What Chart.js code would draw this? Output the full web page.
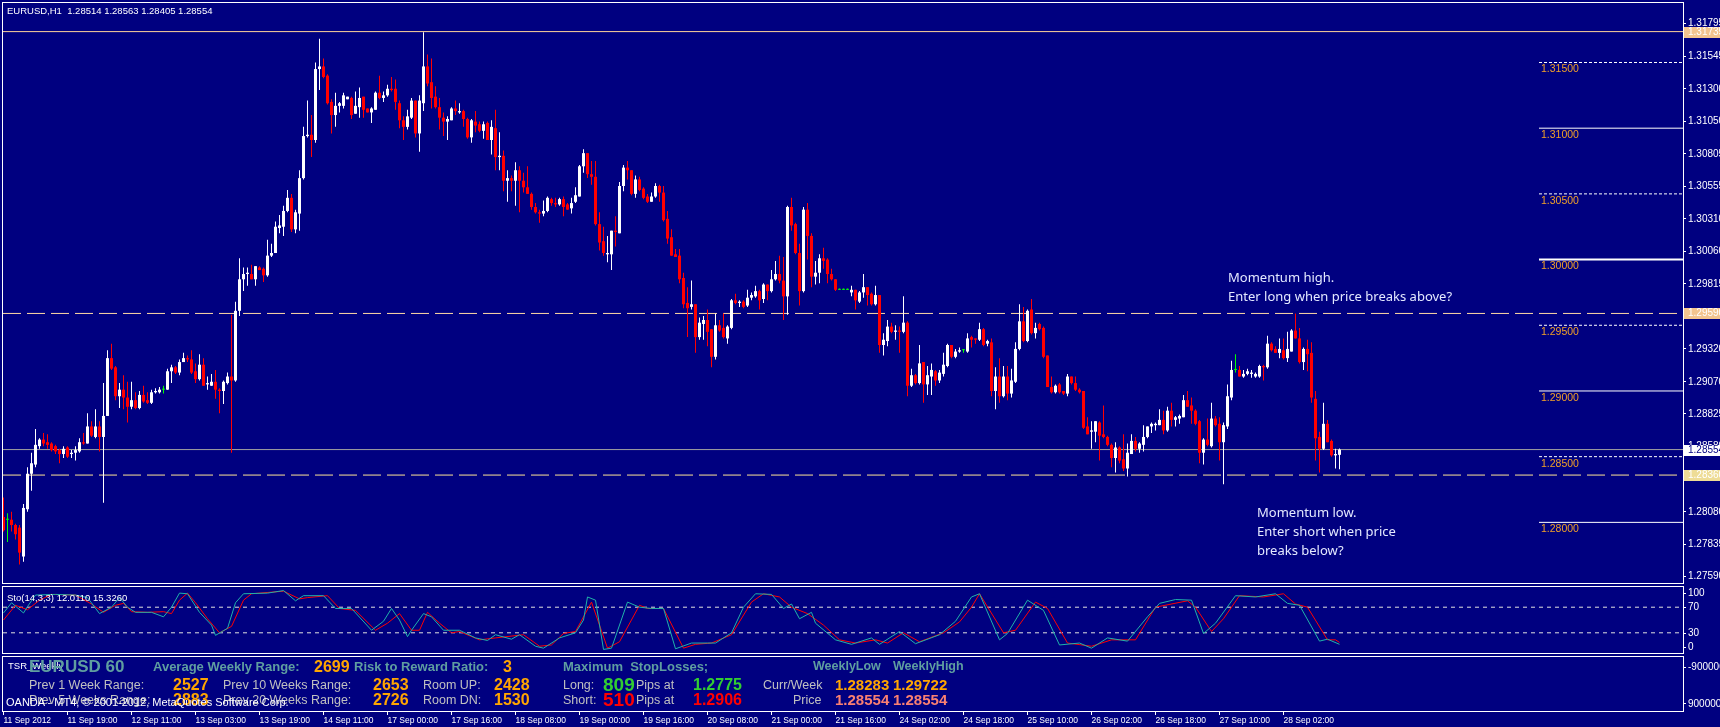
<!DOCTYPE html>
<html>
<head>
<meta charset="utf-8">
<title>EURUSD,H1</title>
<script src="https://cdn.jsdelivr.net/npm/chart.js@4.4.1/dist/chart.umd.min.js"></script>
<style>
  body { margin:0; width:1720px; height:727px; background:#000080; position:relative; overflow:hidden;
         font-family:"Liberation Sans", Arial, sans-serif; }
  canvas { position:absolute; left:0; }
  .frame { position:absolute; left:2px; width:1682px; border:1px solid #fff; box-sizing:border-box; pointer-events:none; }
  .t { position:absolute; white-space:pre; line-height:1; }
  .cb { color:#5f9ea0; font-weight:bold; font-size:13px; }
  .gr { color:#c0c0c0; font-size:12.5px; }
  .or { color:#ffa500; font-weight:bold; font-size:16px; }
  .note { position:absolute; font-family:"Noto Sans", sans-serif; font-size:13px; line-height:19px; color:#e4e9ff; white-space:pre; }
</style>
</head>
<body>
<canvas id="main" width="1720" height="586" style="top:0"></canvas>
<canvas id="stoch" width="1720" height="72" style="top:584px"></canvas>
<canvas id="info" width="1720" height="73" style="top:654px"></canvas>

<div class="frame" style="top:2px;height:582px"></div>
<div class="frame" style="top:586px;height:68px"></div>
<div class="frame" style="top:656px;height:56px"></div>

<!-- main window texts -->
<div class="t" style="left:7px;top:6px;font-size:9.5px;color:#fff">EURUSD,H1  1.28514 1.28563 1.28405 1.28554</div>
<div class="note" style="left:1228px;top:268px">Momentum high.
Enter long when price breaks above?</div>
<div class="note" style="left:1257px;top:503px">Momentum low.
Enter short when price
breaks below?</div>

<!-- stochastic label -->
<div class="t" style="left:7px;top:593px;font-size:9.5px;color:#fff">Sto(14,3,3) 12.0110 15.3260</div>

<!-- TSR weekly panel -->
<div class="t" style="left:8px;top:661px;font-size:9.5px;color:#fff">TSR_Weekly</div>
<div class="t" style="left:29px;top:658px;font-size:17px;font-weight:bold;color:#5f9ea0">EURUSD 60</div>
<div class="t cb" style="left:153px;top:660px">Average Weekly Range:</div>
<div class="t or" style="left:314px;top:659px">2699</div>
<div class="t cb" style="left:354px;top:660px">Risk to Reward Ratio:</div>
<div class="t or" style="left:503px;top:659px">3</div>
<div class="t cb" style="left:563px;top:660px">Maximum  StopLosses;</div>
<div class="t cb" style="left:813px;top:660px;font-size:12.5px">WeeklyLow</div>
<div class="t cb" style="left:893px;top:660px;font-size:12.5px">WeeklyHigh</div>

<div class="t gr" style="left:29px;top:679px">Prev 1 Week Range:</div>
<div class="t or" style="left:173px;top:677px">2527</div>
<div class="t gr" style="left:223px;top:679px">Prev 10 Weeks Range:</div>
<div class="t or" style="left:373px;top:677px">2653</div>
<div class="t gr" style="left:423px;top:679px">Room UP:</div>
<div class="t or" style="left:494px;top:677px">2428</div>
<div class="t gr" style="left:563px;top:679px">Long:</div>
<div class="t" style="left:603px;top:675px;font-size:19px;font-weight:bold;color:#32cd32">809</div>
<div class="t gr" style="left:636px;top:679px">Pips at</div>
<div class="t" style="left:693px;top:677px;font-size:16px;font-weight:bold;color:#32cd32">1.2775</div>
<div class="t gr" style="left:763px;top:679px">Curr/Week</div>
<div class="t or" style="left:835px;top:677px;font-size:15px">1.28283</div>
<div class="t or" style="left:893px;top:677px;font-size:15px">1.29722</div>

<div class="t gr" style="left:29px;top:694px">Prev 5 Weeks Range:</div>
<div class="t or" style="left:173px;top:692px">2883</div>
<div class="t gr" style="left:223px;top:694px">Prev 20 Weeks Range:</div>
<div class="t or" style="left:373px;top:692px">2726</div>
<div class="t gr" style="left:423px;top:694px">Room DN:</div>
<div class="t or" style="left:494px;top:692px">1530</div>
<div class="t gr" style="left:563px;top:694px">Short:</div>
<div class="t" style="left:603px;top:690px;font-size:19px;font-weight:bold;color:#ff0000">510</div>
<div class="t gr" style="left:636px;top:694px">Pips at</div>
<div class="t" style="left:693px;top:692px;font-size:16px;font-weight:bold;color:#ff0000">1.2906</div>
<div class="t gr" style="left:793px;top:694px">Price</div>
<div class="t" style="left:835px;top:692px;font-size:15px;font-weight:bold;color:#fa8072">1.28554</div>
<div class="t" style="left:893px;top:692px;font-size:15px;font-weight:bold;color:#fa8072">1.28554</div>
<div class="t" style="left:6px;top:697px;font-size:11px;color:#fff">OANDA - MT4, © 2001-2012, MetaQuotes Software Corp.</div>

<script>
/* *****
datos H1 EURUSD
***** */
const opens = [
  1.2804,1.2802,1.2802,1.2798,1.2796,1.2774,1.2810,1.2837,1.2844,1.2858, // 0
  1.2863,1.2861,1.2860,1.2858,1.2855,1.2852,1.2857,1.2852,1.2853,1.2854,
  1.2861,1.2860,1.2873,1.2865,1.2873,1.2865,1.2881,1.2925,1.2918,1.2896,
  1.2901,1.2895,1.2888,1.2893,1.2887,1.2897,1.2893,1.2891,1.2899,1.2899,
  1.2901,1.2901,1.2915,1.2918,1.2914,1.2922,1.2925,1.2924,1.2915,1.2909,
  1.2920,1.2905,1.2904,1.2907,1.2901,1.2900,1.2906,1.2911,1.2908,1.2961, // 50
  1.2985,1.2989,1.2989,1.2985,1.2994,1.2993,1.2988,1.3003,1.3005,1.3024,
  1.3025,1.3037,1.3047,1.3023,1.3035,1.3062,1.3094,1.3095,1.3091,1.3145,
  1.3147,1.3140,1.3120,1.3110,1.3117,1.3117,1.3122,1.3123,1.3111,1.3116,
  1.3124,1.3115,1.3112,1.3114,1.3127,1.3123,1.3125,1.3130,1.3130,1.3119,
  1.3106,1.3101,1.3108,1.3121,1.3096,1.3119,1.3147,1.3135,1.3124,1.3116, // 100
  1.3108,1.3105,1.3106,1.3115,1.3112,1.3113,1.3107,1.3093,1.3105,1.3103,
  1.3098,1.3104,1.3091,1.3100,1.3078,1.3079,1.3060,1.3062,1.3060,1.3068,
  1.3060,1.3055,1.3050,1.3040,1.3036,1.3035,1.3037,1.3046,1.3043,1.3042,
  1.3046,1.3042,1.3039,1.3044,1.3048,1.3071,1.3081,1.3065,1.3063,1.3027,
  1.3014,1.3004,1.3004,1.3022,1.3020,1.3056,1.3070,1.3068,1.3050,1.3061, // 150
  1.3054,1.3048,1.3044,1.3048,1.3056,1.3051,1.3031,1.3017,1.3004,1.3003,
  1.2986,1.2967,1.2964,1.2966,1.2941,1.2951,1.2954,1.2947,1.2926,1.2950,
  1.2948,1.2940,1.2948,1.2969,1.2967,1.2968,1.2965,1.2971,1.2972,1.2976,
  1.2970,1.2981,1.2976,1.2985,1.2989,1.2984,1.2972,1.3040,1.3027,1.3005,
  1.2976,1.3038,1.3018,1.2987,1.2990,1.3001,1.3000,1.2989,1.2985,1.2977, // 200
  1.2977,1.2977,1.2975,1.2977,1.2968,1.2975,1.2979,1.2974,1.2966,1.2973,
  1.2935,1.2938,1.2949,1.2945,1.2946,1.2945,1.2952,1.2904,1.2912,1.2906,
  1.2922,1.2905,1.2911,1.2915,1.2908,1.2913,1.2919,1.2935,1.2926,1.2930,
  1.2931,1.2930,1.2941,1.2940,1.2939,1.2947,1.2936,1.2937,1.2900,1.2911,
  1.2896,1.2911,1.2898,1.2907,1.2932,1.2953,1.2938,1.2962,1.2944,1.2951, // 250
  1.2948,1.2927,1.2903,1.2899,1.2905,1.2900,1.2898,1.2911,1.2906,1.2901,
  1.2900,1.2873,1.2869,1.2869,1.2876,1.2867,1.2865,1.2859,1.2849,1.2857,
  1.2848,1.2841,1.2852,1.2862,1.2856,1.2859,1.2865,1.2873,1.2874,1.2874,
  1.2878,1.2870,1.2885,1.2878,1.2879,1.2880,1.2893,1.2889,1.2885,1.2877,
  1.2853,1.2863,1.2858,1.2879,1.2875,1.2861,1.2873,1.2895,1.2916,1.2916, // 300
  1.2911,1.2913,1.2913,1.2911,1.2911,1.2919,1.2918,1.2936,1.2932,1.2929,
  1.2931,1.2925,1.2930,1.2946,1.2940,1.2922,1.2932,1.2929,1.2894,1.2865,
  1.2856,1.2875,1.2862,1.2851,1.28514
];
const highs = [
  1.2819,1.2807,1.2808,1.2799,1.2798,1.2814,1.2842,1.2853,1.2871,1.2864,
  1.2868,1.2867,1.2861,1.2859,1.2856,1.2858,1.2858,1.2855,1.2858,1.2864,
  1.2868,1.2883,1.2877,1.2886,1.2877,1.2906,1.2931,1.2936,1.2919,1.2906,
  1.2912,1.2907,1.2907,1.2899,1.2900,1.2904,1.2899,1.2901,1.2902,1.2903,
  1.2904,1.2917,1.2920,1.2919,1.2924,1.2929,1.2927,1.2931,1.2921,1.2928,
  1.2925,1.2911,1.2913,1.2916,1.2902,1.2908,1.2914,1.2958,1.2968,1.3001,
  1.2994,1.2994,1.2996,1.2995,1.2995,1.2994,1.3015,1.3012,1.3029,1.3034,
  1.3041,1.3053,1.3050,1.3038,1.3068,1.3101,1.3121,1.3110,1.3150,1.3168,
  1.3153,1.3141,1.3122,1.3127,1.3120,1.3127,1.3124,1.3124,1.3128,1.3131,
  1.3124,1.3115,1.3116,1.3128,1.3140,1.3128,1.3133,1.3139,1.3137,1.3121,
  1.3109,1.3114,1.3123,1.3121,1.3125,1.3173,1.3156,1.3153,1.3132,1.3123,
  1.3112,1.3109,1.3116,1.3121,1.3119,1.3114,1.3108,1.3107,1.3113,1.3105,
  1.3105,1.3105,1.3106,1.3114,1.3097,1.3083,1.3068,1.3064,1.3074,1.3071,
  1.3066,1.3071,1.3051,1.3043,1.3038,1.3045,1.3048,1.3047,1.3047,1.3047,
  1.3048,1.3043,1.3047,1.3055,1.3072,1.3084,1.3081,1.3075,1.3075,1.3036,
  1.3025,1.3018,1.3022,1.3033,1.3059,1.3072,1.3075,1.3068,1.3064,1.3063,
  1.3055,1.3050,1.3051,1.3058,1.3057,1.3056,1.3037,1.3023,1.3008,1.3008,
  1.2990,1.2979,1.2984,1.2966,1.2956,1.2957,1.2962,1.2947,1.2959,1.2954,
  1.2959,1.2950,1.2970,1.2974,1.2969,1.2969,1.2977,1.2975,1.2980,1.2977,
  1.2982,1.2981,1.2992,1.2999,1.3003,1.3002,1.3041,1.3047,1.3028,1.3012,
  1.3040,1.3043,1.3020,1.2999,1.3004,1.3009,1.3001,1.2993,1.2985,1.2978,
  1.2978,1.2978,1.2980,1.2977,1.2976,1.2989,1.2979,1.2975,1.2980,1.2973,
  1.2944,1.2954,1.2952,1.2950,1.2949,1.2972,1.2953,1.2917,1.2913,1.2935,
  1.2922,1.2919,1.2921,1.2916,1.2916,1.2929,1.2936,1.2935,1.2932,1.2933,
  1.2932,1.2944,1.2942,1.2940,1.2952,1.2948,1.2939,1.2940,1.2918,1.2925,
  1.2919,1.2919,1.2917,1.2937,1.2966,1.2964,1.2962,1.2970,1.2952,1.2952,
  1.2949,1.2927,1.2911,1.2905,1.2906,1.2900,1.2913,1.2911,1.2911,1.2902,
  1.2900,1.2880,1.2877,1.2877,1.2877,1.2889,1.2866,1.2860,1.2861,1.2858,
  1.2867,1.2860,1.2867,1.2865,1.2861,1.2874,1.2873,1.2876,1.2876,1.2886,
  1.2885,1.2888,1.2891,1.2881,1.2882,1.2897,1.2900,1.2895,1.2886,1.2878,
  1.2864,1.2879,1.2891,1.2881,1.2880,1.2876,1.2905,1.2923,1.2928,1.2919,
  1.2916,1.2917,1.2916,1.2914,1.2920,1.2920,1.2942,1.2937,1.2934,1.2940,
  1.2940,1.2945,1.2947,1.2959,1.2948,1.2933,1.2939,1.2937,1.2900,1.2869,
  1.2891,1.2878,1.2863,1.2856,1.28563
];
const lows = [
  1.2793,1.2785,1.2793,1.2787,1.2768,1.2770,1.2808,1.2824,1.2842,1.2856,
  1.2858,1.2856,1.2854,1.2852,1.2845,1.2849,1.2849,1.2849,1.2847,1.2853,
  1.2859,1.2860,1.2865,1.2864,1.2854,1.2815,1.2881,1.2916,1.2893,1.2887,
  1.2886,1.2876,1.2886,1.2886,1.2886,1.2891,1.2890,1.2890,1.2898,1.2898,
  1.2898,1.2901,1.2906,1.2913,1.2912,1.2922,1.2922,1.2913,1.2906,1.2908,
  1.2904,1.2901,1.2904,1.2894,1.2883,1.2890,1.2905,1.2853,1.2907,1.2957,
  1.2976,1.2980,1.2985,1.2980,1.2992,1.2983,1.2987,1.3002,1.3005,1.3020,
  1.3018,1.3036,1.3021,1.3020,1.3022,1.3061,1.3093,1.3078,1.3089,1.3129,
  1.3138,1.3118,1.3096,1.3101,1.3112,1.3115,1.3122,1.3107,1.3111,1.3108,
  1.3108,1.3112,1.3104,1.3114,1.3122,1.3120,1.3124,1.3128,1.3114,1.3100,
  1.3091,1.3099,1.3107,1.3093,1.3082,1.3113,1.3132,1.3115,1.3115,1.3099,
  1.3094,1.3091,1.3106,1.3110,1.3111,1.3101,1.3092,1.3089,1.3097,1.3097,
  1.3092,1.3091,1.3080,1.3068,1.3068,1.3052,1.3044,1.3052,1.3041,1.3036,
  1.3051,1.3050,1.3038,1.3035,1.3028,1.3033,1.3036,1.3041,1.3040,1.3041,
  1.3033,1.3038,1.3035,1.3043,1.3048,1.3066,1.3062,1.3057,1.3026,1.3007,
  1.3003,1.2998,1.2992,1.3010,1.3020,1.3052,1.3061,1.3049,1.3047,1.3052,
  1.3046,1.3043,1.3044,1.3047,1.3044,1.3029,1.3012,1.3003,1.3002,1.2982,
  1.2963,1.2941,1.2962,1.2929,1.2939,1.2939,1.2934,1.2918,1.2924,1.2945,
  1.2940,1.2936,1.2947,1.2966,1.2964,1.2963,1.2964,1.2969,1.2971,1.2962,
  1.2967,1.2969,1.2975,1.2984,1.2982,1.2954,1.2958,1.3022,1.3004,1.2965,
  1.2975,1.3000,1.2979,1.2981,1.2982,1.2993,1.2982,1.2984,1.2976,1.2977,
  1.2977,1.2977,1.2972,1.2962,1.2967,1.2971,1.2965,1.2965,1.2965,1.2929,
  1.2927,1.2934,1.2944,1.2939,1.2929,1.2944,1.2896,1.2903,1.2905,1.2905,
  1.2891,1.2897,1.2897,1.2904,1.2906,1.2911,1.2918,1.2925,1.2925,1.2929,
  1.2929,1.2929,1.2933,1.2936,1.2938,1.2934,1.2934,1.2896,1.2886,1.2891,
  1.2895,1.2893,1.2895,1.2906,1.2931,1.2937,1.2937,1.2943,1.2940,1.2946,
  1.2925,1.2903,1.2898,1.2898,1.2898,1.2897,1.2896,1.2905,1.2900,1.2898,
  1.2871,1.2867,1.2856,1.2861,1.2847,1.2864,1.2858,1.2842,1.2838,1.2845,
  1.2839,1.2835,1.2852,1.2854,1.2853,1.2854,1.2864,1.2868,1.2870,1.2874,
  1.2867,1.2869,1.2873,1.2873,1.2875,1.2880,1.2888,1.2875,1.2874,1.2845,
  1.2844,1.2858,1.2857,1.2873,1.2847,1.2829,1.2871,1.2893,1.2914,1.2911,
  1.2910,1.2912,1.2910,1.2910,1.2910,1.2908,1.2917,1.2930,1.2929,1.2925,
  1.2924,1.2922,1.2930,1.2940,1.2921,1.2916,1.2915,1.2891,1.2847,1.2838,
  1.2855,1.2861,1.2850,1.2841,1.28405
];
const closes = [
  1.2794,1.2802,1.2798,1.2791,1.2777,1.2811,1.2837,1.2845,1.2859,1.2863,
  1.2860,1.2859,1.2855,1.2854,1.2852,1.2856,1.2850,1.2853,1.2855,1.2861,
  1.2860,1.2873,1.2866,1.2873,1.2865,1.2881,1.2925,1.2917,1.2896,1.2901,
  1.2895,1.2888,1.2893,1.2887,1.2897,1.2892,1.2891,1.2899,1.2900,1.2901,
  1.2901,1.2915,1.2918,1.2914,1.2922,1.2925,1.2924,1.2914,1.2909,1.2920,
  1.2904,1.2906,1.2907,1.2901,1.2900,1.2907,1.2911,1.2908,1.2961,1.2985,
  1.2989,1.2990,1.2985,1.2995,1.2992,1.2988,1.3003,1.3005,1.3025,1.3026,
  1.3037,1.3047,1.3023,1.3036,1.3062,1.3094,1.3095,1.3091,1.3145,1.3147,
  1.3139,1.3119,1.3110,1.3117,1.3119,1.3125,1.3124,1.3110,1.3117,1.3123,
  1.3114,1.3112,1.3115,1.3127,1.3123,1.3125,1.3130,1.3129,1.3120,1.3106,
  1.3101,1.3109,1.3121,1.3096,1.3121,1.3147,1.3134,1.3123,1.3116,1.3108,
  1.3105,1.3107,1.3115,1.3113,1.3113,1.3107,1.3093,1.3106,1.3102,1.3098,
  1.3103,1.3091,1.3101,1.3078,1.3079,1.3060,1.3062,1.3060,1.3068,1.3060,
  1.3055,1.3050,1.3040,1.3036,1.3035,1.3037,1.3047,1.3043,1.3042,1.3046,
  1.3040,1.3038,1.3043,1.3049,1.3071,1.3081,1.3065,1.3063,1.3027,1.3013,
  1.3005,1.3005,1.3022,1.3021,1.3056,1.3070,1.3068,1.3050,1.3061,1.3053,
  1.3047,1.3044,1.3048,1.3056,1.3051,1.3030,1.3016,1.3003,1.3002,1.2985,
  1.2966,1.2963,1.2966,1.2941,1.2952,1.2954,1.2945,1.2926,1.2950,1.2946,
  1.2941,1.2949,1.2969,1.2967,1.2968,1.2964,1.2971,1.2973,1.2976,1.2969,
  1.2981,1.2976,1.2985,1.2989,1.2984,1.2972,1.3040,1.3026,1.3005,1.2976,
  1.3038,1.3018,1.2987,1.2990,1.3001,1.2999,1.2989,1.2985,1.2977,1.2977,
  1.2977,1.2977,1.2977,1.2969,1.2975,1.2979,1.2973,1.2966,1.2973,1.2935,
  1.2939,1.2949,1.2945,1.2946,1.2945,1.2952,1.2904,1.2912,1.2906,1.2921,
  1.2905,1.2912,1.2916,1.2908,1.2914,1.2920,1.2935,1.2926,1.2930,1.2931,
  1.2931,1.2940,1.2939,1.2939,1.2947,1.2935,1.2938,1.2900,1.2911,1.2896,
  1.2911,1.2898,1.2908,1.2932,1.2953,1.2938,1.2961,1.2944,1.2948,1.2947,
  1.2926,1.2903,1.2899,1.2904,1.2899,1.2898,1.2911,1.2906,1.2901,1.2899,
  1.2872,1.2867,1.2870,1.2877,1.2866,1.2865,1.2859,1.2849,1.2857,1.2847,
  1.2841,1.2853,1.2862,1.2856,1.2860,1.2865,1.2873,1.2875,1.2875,1.2878,
  1.2870,1.2885,1.2878,1.2880,1.2881,1.2893,1.2888,1.2885,1.2875,1.2853,
  1.2863,1.2859,1.2879,1.2874,1.2861,1.2874,1.2896,1.2916,1.2916,1.2911,
  1.2913,1.2915,1.2914,1.2913,1.2919,1.2918,1.2936,1.2931,1.2929,1.2932,
  1.2925,1.2932,1.2946,1.2940,1.2922,1.2932,1.2928,1.2895,1.2864,1.2856,
  1.2875,1.2861,1.2851,1.2852,1.28554
];

// etiquetas del eje de tiempo (una cada 16 barras)
const dateTickBars = [0,16,32,48,64,80,96,112,128,144,160,176,192,208,224,240,256,272,288,304,320];
const dateLabels = ["11 Sep 2012","11 Sep 19:00","12 Sep 11:00","13 Sep 03:00","13 Sep 19:00","14 Sep 11:00",
  "17 Sep 00:00","17 Sep 16:00","18 Sep 08:00","19 Sep 00:00","19 Sep 16:00","20 Sep 08:00","21 Sep 00:00",
  "21 Sep 16:00","24 Sep 02:00","24 Sep 18:00","25 Sep 10:00","26 Sep 02:00","26 Sep 18:00","27 Sep 10:00","28 Sep 02:00"];

// escala de precios
const priceTicks = [1.31795,1.31545,1.31300,1.31050,1.30805,1.30555,1.30310,1.30060,1.29815,
  1.29570,1.29320,1.29070,1.28825,1.28580,1.28335,1.28080,1.27835,1.27590];
const roundLevels = [1.315,1.310,1.305,1.300,1.295,1.290,1.285,1.280];
const weekHigh = 1.31735;
const momentumHigh = 1.29590;
const momentumLow = 1.28360;
const bidPrice = 1.28554;

// estocastico (14,3,3)
const stochMainBars = [0,2,5,6,8,13,18,21,24,27, 29,31,33,37,40,42,44,46,49,52,
  53,56,58,60,66,70,73,75,80,83, 87,92,95,97,99,101,102,105,107,110,
  114,118,121,123,127,129,133,135,139,143, 145,146,148,150,152,156,159,162,165,168,
  172,176,178,182,185,188,192,195,197,199, 202,203,208,212,217,219,224,228,234,238,
  242,244,249,251,256,260,264,269,272,276, 281,286,289,293,297,300,303,308,313,318,
  321,324,329,331,334];
const stochMainVals = [61,77,61,71,89,90,89,85,60,70, 85,70,62,62,55,70,92,91,62,42,
  26,37,77,91,92,96,80,88,88,68, 68,34,48,68,50,24,34,60,55,34,
  34,22,18,27,20,27,9,6,22,30, 50,86,81,4,6,78,70,68,68,5,
  14,14,14,30,70,91,90,68,75,52, 62,45,19,12,22,12,32,13,27,48,
  86,91,19,29,81,65,11,14,6,22, 17,55,76,82,81,29,45,88,86,91,
  76,73,17,20,12];
const stochSignalBars = [0,3,6,9,12,18,22,25,28,30, 32,36,40,42,44,46,48,51,54,57,
  60,62,70,74,76,81,84,88,93,96, 99,102,104,106,109,112,114,119,123,130,
  134,137,140,143,147,151,154,159,161,165, 170,173,177,182,187,190,194,197,201,205,
  209,213,218,221,225,229,235,239,242,244, 250,253,258,261,266,272,277,283,288,296,
  298,302,305,309,315,320,323,326,331,333, 334];
const stochSignalVals = [50,73,66,81,90,89,75,62,73,76, 63,62,63,60,81,92,77,52,30,40,
  81,91,95,83,85,88,68,65,34,45, 60,34,34,62,45,30,32,19,22,27,
  9,11,29,32,78,6,16,73,68,68, 6,12,14,27,78,91,86,70,60,42,
  19,14,19,14,30,16,30,47,70,91, 30,34,78,68,14,9,19,19,70,80,
  70,32,52,88,86,91,75,70,19,19, 15];
const stochLevels = [70, 30];
const stochScaleLabels = [100, 70, 30, 0];
const windowScaleLabels = [-9000000, 9000000];

/* *****
configuracion comun
***** */
Chart.defaults.font.family = '"Liberation Sans", Arial, sans-serif';
Chart.defaults.font.size = 10;
Chart.defaults.color = '#ffffff';

const X_MIN = -0.125, X_MAX = 419.875;   // 4 px por barra
const levelLineStart = 383.875;           // donde empiezan las lineas de numeros redondos
const AXIS_W = 37;

const candleColor = (i) => {
    if (closes[i] > opens[i]) return '#ffffff';
    if (closes[i] < opens[i]) return '#ff0000';
    return '#00ff00';
}

const hLine = (y, from, color, width, dash) => ({
    type: 'line',
    data: [{ x: from, y: y }, { x: X_MAX, y: y }],
    borderColor: color,
    borderWidth: width,
    borderDash: dash || [],
    pointRadius: 0,
    tension: 0,
    order: 5
})

const baseOptions = () => ({
    responsive: false,
    animation: false,
    devicePixelRatio: 1,
    events: [],
    plugins: { legend: { display: false }, tooltip: { enabled: false } }
})

/* *****
ventana principal: velas
***** */
const mainOverlay = {
    id: 'mainOverlay',
    afterDraw(chart) {
        const { ctx, chartArea, scales } = chart;
        ctx.save();
        ctx.textBaseline = 'middle';
        ctx.font = '10.5px "Liberation Sans", Arial, sans-serif';
        ctx.fillStyle = '#f0a028';
        const lx = scales.x.getPixelForValue(levelLineStart) + 2;
        roundLevels.forEach((v) => {
            ctx.fillText(v.toFixed(5), lx, scales.y.getPixelForValue(v) + 7);
        });
        ctx.font = '10px "Liberation Sans", Arial, sans-serif';
        const boxes = [
            { v: weekHigh, bg: '#f3c48f', fg: '#ffffff' },
            { v: momentumHigh, bg: '#f3c48f', fg: '#ffffff' },
            { v: bidPrice, bg: '#ffffff', fg: '#000080' },
            { v: momentumLow, bg: '#eedc96', fg: '#ffffff' }
        ];
        boxes.forEach((b) => {
            const py = Math.round(scales.y.getPixelForValue(b.v));
            ctx.fillStyle = b.bg;
            ctx.fillRect(chartArea.right + 1, py - 5, AXIS_W, 11);
            ctx.fillStyle = b.fg;
            ctx.fillText(b.v.toFixed(5), chartArea.right + 5, py + 0.5);
        });
        ctx.restore();
    }
}

const barIdx = opens.map((_, i) => i);

new Chart(document.getElementById('main'), {
    type: 'bar',
    data: {
        datasets: [
            hLine(weekHigh, X_MIN, '#ffd39a', 1),
            hLine(momentumHigh, X_MIN, '#ffd9a4', 1, [18, 6]),
            hLine(momentumLow, X_MIN, '#ffe596', 1, [18, 6]),
            hLine(bidPrice, X_MIN, '#a0a0a0', 1),
            ...roundLevels.map((v) => {
                const major = Math.abs(v * 100 - Math.round(v * 100)) < 1e-6;
                const thick = Math.abs(v - 1.30) < 1e-6 ? 2 : 1;
                return hLine(v, levelLineStart, '#ffffff', thick, major ? [] : [3, 2]);
            }),
            {
                label: 'wick',
                data: barIdx.map((i) => ({ x: i, y: [lows[i], highs[i]] })),
                backgroundColor: (c) => candleColor(c.dataIndex),
                barThickness: 1, grouped: false, minBarLength: 1, inflateAmount: 0, borderWidth: 0,
                order: 2
            },
            {
                label: 'body',
                data: barIdx.map((i) => ({ x: i, y: [opens[i], closes[i]] })),
                backgroundColor: (c) => candleColor(c.dataIndex),
                barThickness: 3, grouped: false, minBarLength: 1, inflateAmount: 0, borderWidth: 0,
                order: 1
            }
        ]
    },
    options: {
        ...baseOptions(),
        layout: { padding: { left: 3, top: 3, right: 0, bottom: 3 } },
        scales: {
            x: { type: 'linear', min: X_MIN, max: X_MAX, offset: false, display: false },
            y: {
                type: 'linear', position: 'right', min: 1.275766, max: 1.319147,
                afterFit: (s) => { s.width = AXIS_W; },
                afterBuildTicks: (s) => { s.ticks = priceTicks.map((v) => ({ value: v })); },
                ticks: { autoSkip: false, padding: 2, color: '#ffffff', callback: (v) => v.toFixed(5) },
                grid: { drawOnChartArea: false, color: '#ffffff', tickLength: 3 },
                border: { display: false }
            }
        }
    },
    plugins: [mainOverlay]
});

/* *****
ventana del estocastico
***** */
const stochAxis = {
    id: 'stochAxis',
    afterDraw(chart) {
        const { ctx, chartArea, scales } = chart;
        ctx.save();
        ctx.font = '10px "Liberation Sans", Arial, sans-serif';
        ctx.fillStyle = '#ffffff';
        ctx.strokeStyle = '#ffffff';
        ctx.textBaseline = 'middle';
        stochScaleLabels.forEach((v) => {
            let py = scales.y.getPixelForValue(v);
            py = Math.min(Math.max(py, chartArea.top + 5), chartArea.bottom - 5);
            const ly = Math.round(py) + 0.5;
            ctx.beginPath();
            ctx.moveTo(chartArea.right, ly);
            ctx.lineTo(chartArea.right + 3, ly);
            ctx.stroke();
            ctx.fillText(String(v), chartArea.right + 5, py);
        });
        ctx.restore();
    }
}

new Chart(document.getElementById('stoch'), {
    type: 'line',
    data: {
        datasets: [
            ...stochLevels.map((v) => hLine(v, X_MIN, '#e0e0e0', 1, [4, 4])),
            {
                label: 'signal',
                data: stochSignalBars.map((b, i) => ({ x: b, y: stochSignalVals[i] })),
                borderColor: '#ff0000', borderWidth: 1, pointRadius: 0, tension: 0, order: 2
            },
            {
                label: 'main',
                data: stochMainBars.map((b, i) => ({ x: b, y: stochMainVals[i] })),
                borderColor: '#20b2aa', borderWidth: 1, pointRadius: 0, tension: 0, order: 1
            }
        ]
    },
    options: {
        ...baseOptions(),
        layout: { padding: { left: 3, top: 4, right: 0, bottom: 4 } },
        scales: {
            x: { type: 'linear', min: X_MIN, max: X_MAX, offset: false, display: false },
            y: {
                type: 'linear', position: 'right', min: 0, max: 100,
                afterFit: (s) => { s.width = AXIS_W; },
                ticks: { display: false },
                grid: { display: false },
                border: { display: false }
            }
        }
    },
    plugins: [stochAxis]
});

/* *****
ventana TSR_Weekly + eje de tiempo
***** */
new Chart(document.getElementById('info'), {
    type: 'line',
    data: { datasets: [] },
    options: {
        ...baseOptions(),
        layout: { padding: { left: 3, top: 2, right: 0, bottom: 0 } },
        scales: {
            x: {
                type: 'linear', position: 'bottom', min: X_MIN, max: X_MAX, offset: false,
                afterFit: (s) => { s.height = 16; },
                afterBuildTicks: (s) => { s.ticks = dateTickBars.map((v) => ({ value: v })); },
                ticks: {
                    autoSkip: false, maxRotation: 0, minRotation: 0, align: 'start', padding: 1,
                    color: '#ffffff', font: { size: 8.5 },
                    callback: (v, i) => dateLabels[i]
                },
                grid: { drawOnChartArea: false, color: '#ffffff', tickLength: 4 },
                border: { display: false }
            },
            y: {
                type: 'linear', position: 'right', reverse: true, min: -11634000, max: 12512000,
                afterFit: (s) => { s.width = AXIS_W; },
                afterBuildTicks: (s) => { s.ticks = windowScaleLabels.map((v) => ({ value: v })); },
                ticks: { autoSkip: false, padding: 2, color: '#ffffff', callback: (v) => String(v) },
                grid: { drawOnChartArea: false, color: '#ffffff', tickLength: 3 },
                border: { display: false }
            }
        }
    }
});
</script>
</body>
</html>
